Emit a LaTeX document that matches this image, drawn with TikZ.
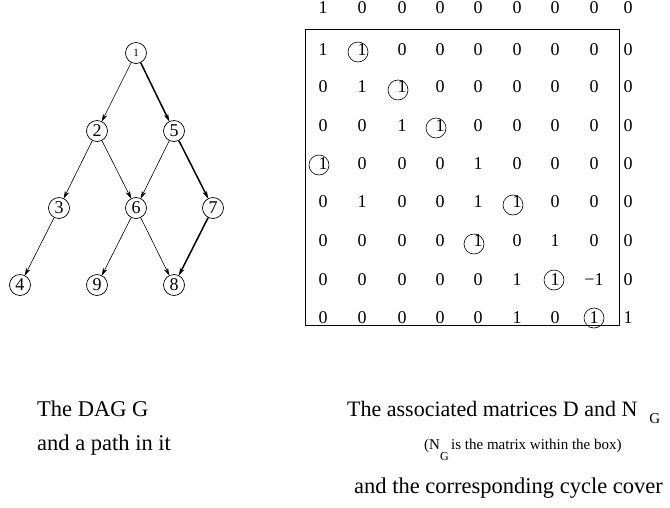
\documentclass[tikz,border=0pt]{standalone}
\usepackage{fontspec}
\setmainfont{Liberation Serif}
\usetikzlibrary{arrows.meta}

\begin{document}
\begin{tikzpicture}[x=1pt,y=-1pt,
  vert/.style={circle,draw,line width=0.7pt,minimum size=21pt,inner sep=0pt,font=\fontsize{18}{18}\selectfont},
  edge/.style={line width=0.6pt,-{Stealth[length=8pt,width=4.5pt]},shorten >=-0.5pt},
  pathedge/.style={edge,line width=1.5pt},
  entry/.style={inner sep=0pt,font=\fontsize{18}{18}\selectfont},
  ring/.style={circle,draw,line width=0.6pt,minimum size=20pt,inner sep=0pt},
  caption/.style={inner sep=0pt,anchor=base west,font=\fontsize{22.5}{26}\selectfont},
  smallcap/.style={inner sep=0pt,anchor=base west,font=\fontsize{15}{18}\selectfont}]

\useasboundingbox (0,0) rectangle (670,507);

% ---- the DAG ----
\node[vert,font=\fontsize{11}{11}\selectfont] (v1) at (136,53) {1};
\node[vert] (v2) at (97,131) {2};
\node[vert] (v5) at (174,131) {5};
\node[vert] (v3) at (59,208) {3};
\node[vert] (v6) at (136,208) {6};
\node[vert] (v7) at (213,208) {7};
\node[vert] (v4) at (20,285) {4};
\node[vert] (v9) at (97,285) {9};
\node[vert] (v8) at (174,285) {8};

\draw[edge] (v1) -- (v2);
\draw[edge] (v2) -- (v3);
\draw[edge] (v2) -- (v6);
\draw[edge] (v5) -- (v6);
\draw[edge] (v3) -- (v4);
\draw[edge] (v6) -- (v9);
\draw[edge] (v6) -- (v8);
% the path 1 -> 5 -> 7 -> 8
\draw[pathedge] (v1) -- (v5);
\draw[pathedge] (v5) -- (v7);
\draw[pathedge] (v7) -- (v8);

% ---- the matrices D and N_G ----
\foreach \y/\row [count=\r from 0] in {
   8/{1,0,0,0,0,0,0,0,0},
  50/{1,1,0,0,0,0,0,0,0},
  87/{0,1,1,0,0,0,0,0,0},
 126/{0,0,1,1,0,0,0,0,0},
 164/{1,0,0,0,1,0,0,0,0},
 202/{0,1,0,0,1,1,0,0,0},
 241/{0,0,0,0,1,0,1,0,0},
 280/{0,0,0,0,0,1,1,−1,0},
 318/{0,0,0,0,0,1,0,1,1}}{
  \foreach \v [count=\c] in \row {
    \pgfmathsetmacro\xx{{323,362,402,440,478,517,555,594,628}[\c-1]}
    \node[entry] (m-\r-\c) at (\xx,\y) {\v};
  }
}

% the box around N_G
\draw[line width=0.7pt] (305,29) rectangle (619,325);

% the cycle cover
\node[ring,xshift=-4pt,yshift=-2pt] (c1) at (m-1-2) {};
\node[ring,xshift=-4pt,yshift=-3pt] (c2) at (m-2-3) {};
\node[ring,xshift=-4pt,yshift=-2pt] (c3) at (m-3-4) {};
\node[ring,xshift=-4pt,yshift=-1pt] (c4) at (m-4-1) {};
\node[ring,xshift=-4pt,yshift=-3pt] (c5) at (m-5-6) {};
\node[ring,xshift=-4pt,yshift=-3pt] (c6) at (m-6-5) {};
\node[ring,xshift=-1pt] (c7) at (m-7-7) {};
\node[ring] (c8) at (m-8-8) {};

% ---- captions ----
\node[caption] (t1) at (37,416) {The DAG G};
\node[caption] (t2) at (37,450) {and a path in it};
\node[caption,font=\fontsize{22}{26}\selectfont] (t3) at (347,416) {The associated matrices D and N\hspace{12pt}\raisebox{-7pt}{\fontsize{15}{15}\selectfont G}};
\node[smallcap] (t4) at (424,449) {(N\raisebox{-11pt}{\fontsize{12}{12}\selectfont G}\,is the matrix within the box)};
\node[caption] (t5) at (354,493) {and the corresponding cycle cover};
\end{tikzpicture}
\end{document}
